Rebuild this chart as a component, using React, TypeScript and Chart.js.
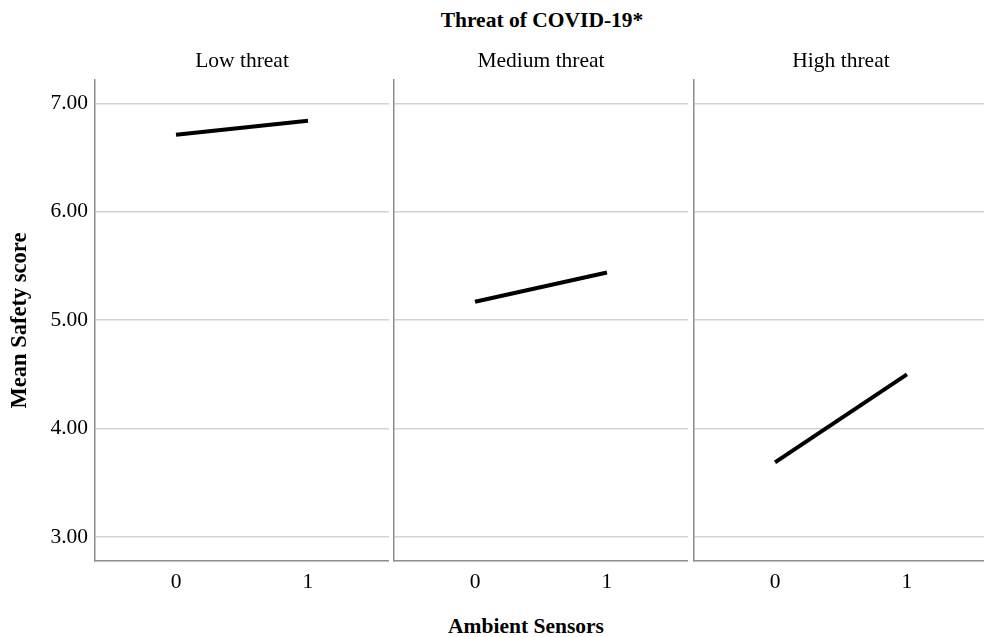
import React, { useEffect, useRef } from "react";
import { Chart, registerables } from "chart.js";

Chart.register(...registerables);

// ---- data ----
const panelTitles = ["Low threat", "Medium threat", "High threat"];
const sensorLevels = [0, 1];
const lowThreat = [6.71, 6.84];
const mediumThreat = [5.17, 5.44];
const highThreat = [3.69, 4.5];
const yTickValues = [3, 4, 5, 6, 7];
const xTickValues = [0, 1];
const overallTitle = "Threat of COVID-19*";
const xAxisTitle = "Ambient Sensors";
const yAxisTitle = "Mean Safety score";

const panelSeries = [lowThreat, mediumThreat, highThreat];

const FONT = "'Liberation Serif', 'Times New Roman', serif";
const GRID = "#d3d3d3";
const AXIS = "#8c8c8c";
const FS = 21.5;

// panel canvas placement (layout only)
const panelBoxes = [
  { left: 0, width: 389, yAxisWidth: 95 },
  { left: 391, width: 297, yAxisWidth: 3 },
  { left: 691, width: 297, yAxisWidth: 3 },
];
const CANVAS_TOP = 40;
const CANVAS_H = 561;

function Panel({ index }: { index: number }) {
  const ref = useRef<HTMLCanvasElement | null>(null);
  useEffect(() => {
    if (!ref.current) return;
    const box = panelBoxes[index];
    const values = panelSeries[index];
    const first = index === 0;
    const chart = new Chart(ref.current, {
      type: "line",
      data: {
        datasets: [
          {
            data: sensorLevels.map((x, i) => ({ x, y: values[i] })),
            borderColor: "#000",
            borderWidth: 4,
            pointRadius: 0,
            fill: false,
            tension: 0,
          },
        ],
      },
      options: {
        animation: false,
        responsive: true,
        maintainAspectRatio: false,
        layout: { padding: 0 },
        plugins: {
          legend: { display: false },
          tooltip: { enabled: false },
          title: {
            display: true,
            text: panelTitles[index],
            fullSize: false,
            color: "#000",
            font: { family: FONT, size: FS, weight: "normal", lineHeight: 1.2 },
            padding: { top: 8.1, bottom: 6.1 },
          },
        },
        scales: {
          x: {
            type: "linear",
            min: -0.614,
            max: 1.614,
            afterBuildTicks: (s: any) => {
              s.ticks = xTickValues.map((v) => ({ value: v }));
            },
            afterFit: (s: any) => {
              s.height = 40;
            },
            grid: { display: false, drawTicks: false },
            border: { display: true, color: AXIS, width: 1.5 },
            ticks: {
              color: "#000",
              padding: 8,
              maxRotation: 0,
              font: { family: FONT, size: FS },
              callback: (v: any) => String(v),
            },
          },
          y: {
            type: "linear",
            min: 2.78,
            max: 7.215,
            afterBuildTicks: (s: any) => {
              s.ticks = yTickValues.map((v) => ({ value: v }));
            },
            afterFit: (s: any) => {
              s.width = box.yAxisWidth;
            },
            grid: { color: GRID, lineWidth: 1.5, drawTicks: false },
            border: { display: true, color: AXIS, width: 1.5 },
            ticks: {
              display: first,
              color: "#000",
              padding: 7,
              font: { family: FONT, size: FS },
              callback: (v: any) => Number(v).toFixed(2),
            },
            title: {
              display: first,
              text: yAxisTitle,
              color: "#000",
              font: { family: FONT, size: 22.5, weight: "bold", lineHeight: 1.2 },
              padding: { top: 7, bottom: 0 },
            },
          },
        },
      },
    } as any);
    return () => chart.destroy();
  }, [index]);
  const box = panelBoxes[index];
  return (
    <div
      style={{
        position: "absolute",
        left: box.left,
        top: CANVAS_TOP,
        width: box.width,
        height: CANVAS_H,
      }}
    >
      <canvas ref={ref} />
    </div>
  );
}

export default function App() {
  return (
    <div
      style={{
        position: "fixed",
        left: 0,
        top: 0,
        width: 984,
        height: 637,
        overflow: "hidden",
        background: "#fff",
        fontFamily: FONT,
      }}
    >
      <div
        style={{
          position: "absolute",
          left: 342,
          width: 400,
          top: 7,
          textAlign: "center",
          fontWeight: "bold",
          fontSize: FS,
          lineHeight: "26px",
          color: "#000",
          whiteSpace: "nowrap",
        }}
      >
        {overallTitle}
      </div>
      {panelTitles.map((_, i) => (
        <Panel key={i} index={i} />
      ))}
      <div
        style={{
          position: "absolute",
          left: 326,
          width: 400,
          top: 613,
          textAlign: "center",
          fontWeight: "bold",
          fontSize: FS,
          lineHeight: "26px",
          color: "#000",
          whiteSpace: "nowrap",
        }}
      >
        {xAxisTitle}
      </div>
    </div>
  );
}
